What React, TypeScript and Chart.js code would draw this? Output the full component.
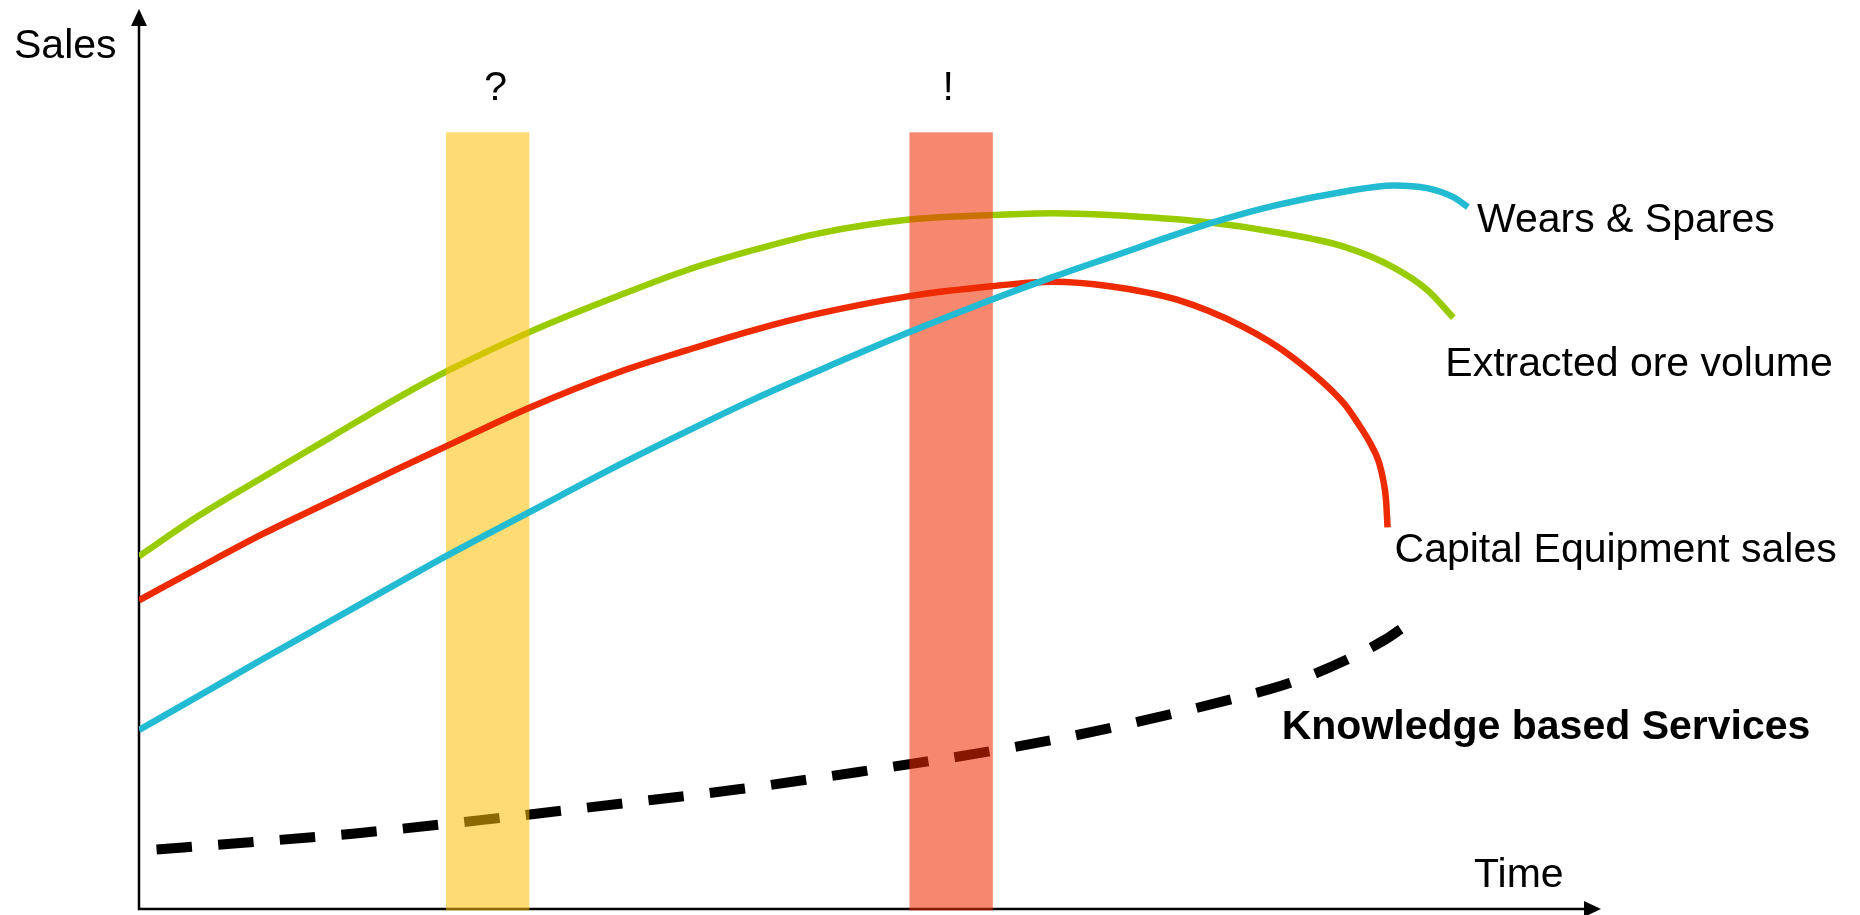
import React, { useEffect, useRef } from "react";
import { Chart, registerables } from "chart.js";

Chart.register(...registerables);

// ---------- data (x = time, y = sales; arbitrary 0–100 units) ----------
const seriesNames = [
  "Extracted ore volume",
  "Capital Equipment sales",
  "Wears & Spares",
  "Knowledge based Services",
];

const oreTime = [0, 4.0, 8.5, 13.1, 17.7, 21.0, 26.7, 32.9, 37.5, 42.0, 46.6, 52.7, 58.3, 62.5, 66.4, 73.1, 77.8, 82.4, 85.8, 88.1, 89.9];
const oreSales = [39.2, 43.6, 48.0, 52.4, 56.8, 59.7, 64.1, 68.2, 71.0, 73.2, 75.1, 76.6, 77.1, 77.3, 77.1, 76.3, 75.2, 73.6, 71.3, 68.8, 65.7];

const capexTime = [0, 4.2, 8.5, 13.1, 17.7, 21.0, 26.7, 32.9, 37.5, 42.0, 46.6, 52.7, 58.3, 62.5, 66.4, 71.0, 75.5, 78.9, 82.4, 83.4, 84.2, 84.8, 85.1, 85.3, 85.4];
const capexSales = [34.3, 38.0, 41.7, 45.3, 48.9, 51.4, 55.7, 59.7, 62.1, 64.3, 66.2, 68.1, 69.2, 69.7, 69.2, 67.7, 64.7, 61.3, 56.2, 53.9, 51.8, 49.7, 47.7, 45.4, 42.4];

const sparesTime = [0, 4.0, 8.5, 13.1, 17.7, 21.0, 26.7, 32.9, 37.5, 42.0, 46.6, 52.7, 58.3, 62.3, 66.4, 73.3, 77.8, 82.4, 85.8, 88.1, 89.9, 90.9];
const sparesSales = [19.9, 23.6, 27.8, 32.0, 36.2, 39.2, 44.1, 49.4, 53.1, 56.6, 59.9, 64.1, 67.7, 70.1, 72.4, 76.2, 78.2, 79.7, 80.4, 80.1, 79.1, 78.0];

const servicesTime = [1.2, 6.7, 14.8, 23.5, 32.9, 41.0, 49.1, 59.9, 66.4, 74.7, 78.7, 82.6, 85.2, 86.3];
const servicesSales = [6.6, 7.3, 8.4, 9.9, 11.7, 13.3, 15.2, 18.0, 20.1, 23.3, 25.1, 27.7, 29.9, 31.1];

const phaseLabels = ["?", "!"];
const phaseStart = [21.0, 52.7];
const phaseEnd = [26.7, 58.4];
const phaseTop = [86.3, 86.3];

const axisTitleY = "Sales";
const axisTitleX = "Time";

// ---------- styles ----------
const FONT = '"Liberation Sans", Arial, Helvetica, sans-serif';
const FONT_SIZE = 41;
const GREEN = "#99CC00";
const RED = "#EE2A00";
const CYAN = "#22BBD2";
const PHASE_COLORS = ["rgba(255,192,0,0.55)", "rgba(240,42,0,0.56)"];
const PHASE_LABEL_DX = [8, -3];
const PHASE_LABEL_GAP = 32;
// label offsets from the last point of each series (px): [dx, dy, bold]
const LABEL_OFFSETS: [number, number, boolean][] = [
  [-8, 58, false],
  [7, 35, false],
  [9, 25, false],
  [-119, 110, true],
];

const overlay = {
  id: "overlay",
  beforeDatasetsDraw(chart: any) {
    const { ctx, chartArea: a } = chart;
    ctx.save();
    ctx.strokeStyle = "#000";
    ctx.fillStyle = "#000";
    ctx.lineWidth = 2.5;
    ctx.beginPath();
    ctx.moveTo(a.left, a.bottom);
    ctx.lineTo(a.left, a.top + 15);
    ctx.moveTo(a.left - 1.25, a.bottom);
    ctx.lineTo(a.right - 15, a.bottom);
    ctx.stroke();
    ctx.beginPath();
    ctx.moveTo(a.left, a.top);
    ctx.lineTo(a.left - 8, a.top + 17);
    ctx.lineTo(a.left + 8, a.top + 17);
    ctx.closePath();
    ctx.fill();
    ctx.beginPath();
    ctx.moveTo(a.right, a.bottom);
    ctx.lineTo(a.right - 17, a.bottom - 8);
    ctx.lineTo(a.right - 17, a.bottom + 8);
    ctx.closePath();
    ctx.fill();
    ctx.restore();
  },
  beforeDatasetDraw(chart: any, args: any) {
    if (args.index !== 1) return; // bands sit above ore & services, below capex & spares
    const { ctx, scales } = chart;
    const xs = scales.x;
    const ys = scales.y;
    ctx.save();
    phaseStart.forEach((s: number, i: number) => {
      const x0 = xs.getPixelForValue(s);
      const x1 = xs.getPixelForValue(phaseEnd[i]);
      const yt = ys.getPixelForValue(phaseTop[i]);
      const yb = ys.getPixelForValue(0) + 1.5;
      ctx.fillStyle = PHASE_COLORS[i];
      ctx.fillRect(x0, yt, x1 - x0, yb - yt);
      ctx.fillStyle = "#000";
      ctx.font = `${FONT_SIZE}px ${FONT}`;
      ctx.textAlign = "center";
      ctx.textBaseline = "alphabetic";
      ctx.fillText(phaseLabels[i], (x0 + x1) / 2 + PHASE_LABEL_DX[i], yt - PHASE_LABEL_GAP);
    });
    ctx.restore();
  },
  afterDraw(chart: any) {
    const { ctx, chartArea: a } = chart;
    ctx.save();
    ctx.fillStyle = "#000";
    ctx.textAlign = "left";
    ctx.textBaseline = "alphabetic";
    ctx.font = `${FONT_SIZE}px ${FONT}`;
    ctx.fillText(axisTitleY, a.left - 125, a.top + 49);
    ctx.fillText(axisTitleX, a.right - 127, a.bottom - 22);
    chart.data.datasets.forEach((ds: any, i: number) => {
      const meta = chart.getDatasetMeta(i);
      const last = meta.data[meta.data.length - 1];
      const [dx, dy, bold] = LABEL_OFFSETS[i];
      ctx.font = `${bold ? "bold " : ""}${FONT_SIZE}px ${FONT}`;
      ctx.fillText(ds.label, last.x + dx, last.y + dy);
    });
    ctx.restore();
  },
};

const pts = (xs: number[], ys: number[]) => xs.map((x, i) => ({ x, y: ys[i] }));

export default function App() {
  const ref = useRef<HTMLCanvasElement>(null);
  useEffect(() => {
    const canvas = ref.current!;
    const common = {
      showLine: true,
      pointRadius: 0,
      pointHoverRadius: 0,
      cubicInterpolationMode: "monotone" as const,
      fill: false,
      borderCapStyle: "butt" as const,
      borderJoinStyle: "round" as const,
    };
    const chart = new Chart(canvas, {
      type: "scatter",
      data: {
        datasets: [
          { ...common, label: seriesNames[0], data: pts(oreTime, oreSales), borderColor: GREEN, borderWidth: 6.5, order: 4 },
          { ...common, label: seriesNames[1], data: pts(capexTime, capexSales), borderColor: RED, borderWidth: 6.5, order: 2 },
          { ...common, label: seriesNames[2], data: pts(sparesTime, sparesSales), borderColor: CYAN, borderWidth: 6.5, order: 1 },
          { ...common, label: seriesNames[3], data: pts(servicesTime, servicesSales), borderColor: "#000", borderWidth: 10, borderDash: [35.5, 26.3], order: 3 },
        ],
      },
      options: {
        animation: false,
        responsive: false,
        devicePixelRatio: 1,
        layout: { padding: { left: 139, right: 259, top: 9, bottom: 6 } },
        scales: {
          x: { type: "linear", min: 0, max: 100, display: false },
          y: { type: "linear", min: 0, max: 100, display: false },
        },
        plugins: { legend: { display: false }, tooltip: { enabled: false } },
        events: [],
      },
      plugins: [overlay],
    });
    return () => chart.destroy();
  }, []);
  return (
    <div style={{ position: "absolute", left: 0, top: 0, width: 1860, height: 915, background: "#fff" }}>
      <canvas ref={ref} width={1860} height={915} style={{ display: "block", width: 1860, height: 915 }} />
    </div>
  );
}
